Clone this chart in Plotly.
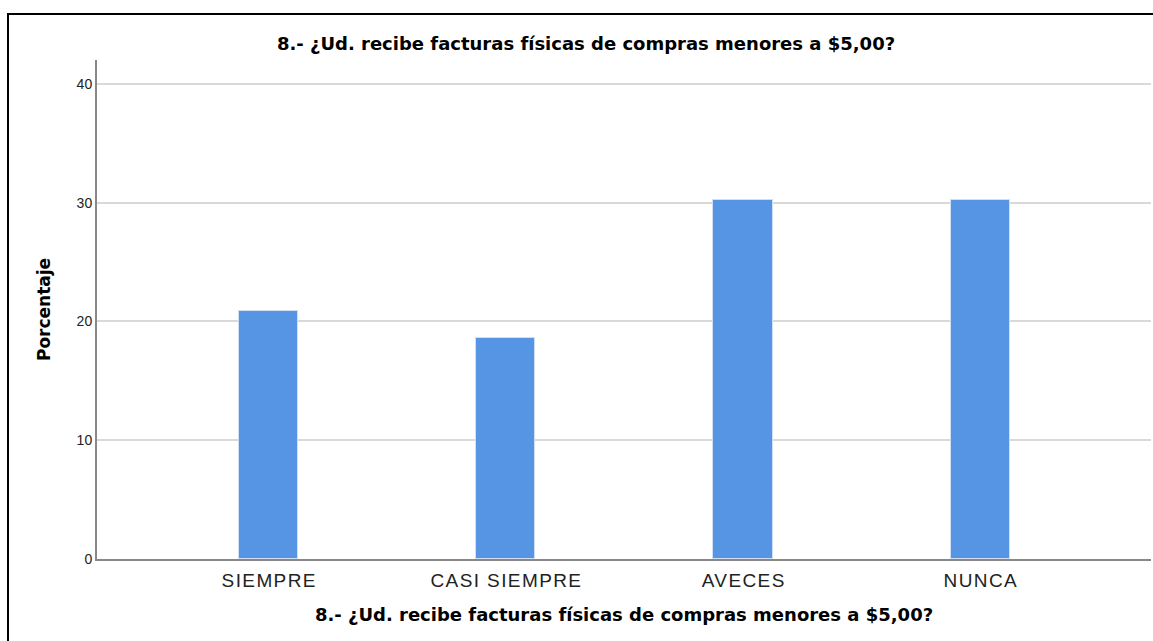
import plotly.graph_objects as go

categories = ["SIEMPRE", "CASI SIEMPRE", "AVECES", "NUNCA"]
percentages = [20.9, 18.6, 30.2, 30.2]
y_ticks = [0, 10, 20, 30, 40]
title_text = "8.- ¿Ud. recibe facturas físicas de compras menores a $5,00?"

W, H = 1153, 641
L, R, T, B = 97, 2, 60, 82
BOLD_FONT = "DejaVu Sans, Liberation Sans, Arial, sans-serif"
TICK_FONT = "Liberation Sans, Arial, sans-serif"

fig = go.Figure(
    go.Bar(
        x=categories,
        y=percentages,
        width=0.25,
        marker=dict(color="#5595E3", line=dict(color="#cfe0f5", width=1)),
    )
)

fig.update_layout(
    width=W,
    height=H,
    margin=dict(l=L, r=R, t=T, b=B),
    paper_bgcolor="white",
    plot_bgcolor="white",
    font=dict(family=TICK_FONT, color="#000"),
    showlegend=False,
    title=dict(
        text="<b>" + title_text + "</b>",
        x=586 / W,
        xanchor="center",
        y=1 - 44 / H,
        yanchor="middle",
        font=dict(family=BOLD_FONT, size=18, color="#000"),
    ),
    bargap=0,
)

fig.update_xaxes(
    range=[-0.723, 3.72],
    showgrid=False,
    showline=True,
    linecolor="#888888",
    linewidth=2,
    ticks="",
    ticklabelstandoff=3,
    tickfont=dict(family=TICK_FONT, size=19, color="#222"),
    title=dict(text="<b>" + title_text + "</b>", font=dict(family=BOLD_FONT, size=18, color="#000"), standoff=19),
    zeroline=False,
)

fig.update_yaxes(
    range=[0, 42.02],
    tickvals=y_ticks,
    showgrid=True,
    gridcolor="#d9d9d9",
    gridwidth=2,
    showline=True,
    linecolor="#888888",
    linewidth=2,
    ticks="",
    tickfont=dict(family=TICK_FONT, size=14, color="#222"),
    title=dict(text="<b>Porcentaje</b>", font=dict(family=BOLD_FONT, size=17, color="#000"), standoff=22),
    zeroline=False,
)

fig.add_shape(
    type="rect",
    xref="paper",
    yref="paper",
    x0=(8 - L) / (W - L - R),
    x1=1.05,
    y0=-0.3,
    y1=(H - B - 14) / (H - T - B),
    line=dict(color="#000", width=2),
    fillcolor="rgba(0,0,0,0)",
    layer="below",
)

post = (
    "document.body.style.margin='0';"
    "document.querySelectorAll('.xtick text').forEach(function(t){"
    "t.setAttribute('letter-spacing','1.4px');"
    "t.setAttribute('x', (parseFloat(t.getAttribute('x')||0)+0.7).toString());});"
)

fig.write_html("out.html", post_script=post, config={"displayModeBar": False})
